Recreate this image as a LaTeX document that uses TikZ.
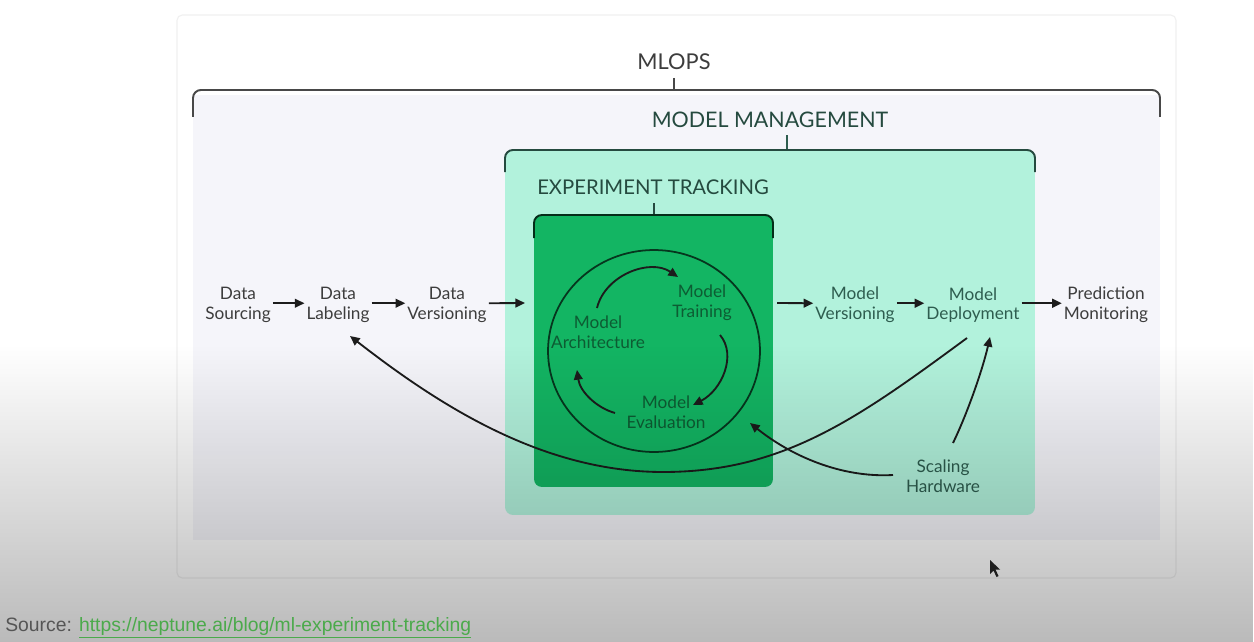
\documentclass[tikz,border=0pt]{standalone}
\usepackage{fontspec}
\setmainfont{Lato}
\newfontfamily\srcfont{Liberation Sans}
\usetikzlibrary{arrows.meta,shapes.geometric,fadings,calc}
\definecolor{txtgray}{HTML}{3D3D3D}
\definecolor{mint}{HTML}{B2F2DC}
\definecolor{minttxt}{HTML}{2E5D4F}
\definecolor{green}{HTML}{13B563}
\definecolor{greentxt}{HTML}{0D5C33}
\definecolor{lav}{HTML}{F5F5FA}
\definecolor{brgray}{HTML}{484848}
\definecolor{arrowc}{HTML}{1C1C1C}
\definecolor{linkgreen}{HTML}{4BAA4B}
\definecolor{srcgray}{HTML}{555555}
\tikzfading[name=vignette, top color=transparent!100, bottom color=transparent!0]
\begin{document}
\begin{tikzpicture}[x=0.02cm,y=-0.02cm,
  lbl/.style={font=\fontsize{9.8}{11.2}\selectfont, align=center, text=txtgray, inner sep=1pt},
  mlbl/.style={lbl, text=minttxt},
  glbl/.style={lbl, text=greentxt},
  head/.style={font=\fontsize{12.2}{14}\selectfont, inner sep=0pt},
  arr/.style={-{Triangle[length=5.5pt,width=5pt]}, line width=1.05pt, draw=arrowc},
  bracket/.style={line width=1.1pt, rounded corners=4.5pt},
  tick/.style={line width=0.8pt}]
\useasboundingbox (0,0) rectangle (1254,642);
% background and card
\fill[white] (0,0) rectangle (1254,642);
\draw[black!6, line width=0.6pt, rounded corners=3pt] (177,15) rectangle (1176,578);
\fill[lav] (193,95) rectangle (1160,540);
% model management box
\node[rectangle, rounded corners=4.5pt, fill=mint, minimum width=10.6cm, minimum height=7.3cm, inner sep=0pt] (mm) at (770,332.5) {};
% experiment tracking box
\node[rectangle, rounded corners=4.5pt, fill=green, minimum width=4.78cm, minimum height=5.44cm, inner sep=0pt] (et) at (653.5,351) {};
% brackets and headings
\node[head, font=\fontsize{12.4}{14}\selectfont, text=txtgray] (mlops) at (674,62) {MLOPS};
\draw[tick, brgray] (674,78) -- (674,90);
\draw[bracket, brgray] (193,117) -- (193,90) -- (1160,90) -- (1160,117);
\node[head, text=minttxt!80!black] (mmh) at (770,120) {MODEL MANAGEMENT};
\draw[tick, minttxt] (787,135) -- (787,150);
\draw[bracket, minttxt!80!black] (505,172) -- (505,150) -- (1035,150) -- (1035,172);
\node[head, font=\fontsize{11.55}{13}\selectfont, text=minttxt!80!black] (eth) at (653,187) {EXPERIMENT TRACKING};
\draw[tick, minttxt!80!black] (654,203) -- (654,215);
\draw[bracket, black!75!green] (534,238) -- (534,215) -- (773,215) -- (773,238);
% cycle
\node[ellipse, draw=black!70!green, line width=1pt, minimum width=4.24cm, minimum height=4.04cm, inner sep=0pt] (cyc) at (654,351) {};
\node[glbl] (arch) at (598,332) {Model\\Architecture};
\node[glbl] (train) at (702,303) {Model\\Training};
\node[glbl] (eval) at (666,412) {Model\\Evaluation};
\draw[arr] ([shift={(-1,-24)}]arch.center) .. controls (605,275) and (650,258) .. ([shift={(-24,-26)}]train.center);
\draw[arr] ([shift={(18,32)}]train.center) .. controls (737,355) and (722,390) .. ([shift={(27,-7)}]eval.center);
\draw[arr] ([shift={(-51,1)}]eval.center) .. controls (597,408) and (580,392) .. ([shift={(-21,38)}]arch.center);
% main row
\node[lbl] (src) at (238,305) {Data\\Sourcing};
\node[lbl] (lab) at (338,305) {Data\\Labeling};
\node[lbl] (ver) at (447,305) {Data\\Versioning};
\node[mlbl] (mver) at (855,305) {Model\\Versioning};
\node[mlbl] (dep) at (973,305) {Model\\Deployment};
\node[lbl] (pred) at (1106,305) {Prediction\\Monitoring};
\node[mlbl] (sc) at (943,476) {Scaling\\Hardware};
\coordinate (etin) at (525,303);
\coordinate (etout) at (777,303);
\coordinate (low) at (663,472);
\draw[arr] ([yshift=1pt]src.east) -- ([yshift=1pt]lab.west);
\draw[arr] ([yshift=1pt]lab.east) -- ([yshift=1pt]ver.west);
\draw[arr] ([yshift=1pt]ver.east) -- (etin);
\draw[arr] (etout) -- ([yshift=1pt]mver.west);
\draw[arr] ([yshift=1pt]mver.east) -- ([yshift=1pt]dep.west);
\draw[arr] ([yshift=1pt]dep.east) -- ([yshift=1pt]pred.west);
% feedback curves
\draw[arr] ([shift={(-6,33)}]dep.center) .. controls (857,419) and (783,472) .. (low)
  .. controls (543,472) and (440,406) .. ([shift={(12,31)}]lab.center);
\draw[arr] ([shift={(10,-33)}]sc.center) .. controls (968,412) and (983,368) .. ([shift={(17,32)}]dep.center);
\draw[arr] ([shift={(-50,-1)}]sc.center) .. controls (840,478) and (790,455) .. ([shift={(96,72)}]cyc.center);
% mouse pointer
\fill[black!85] (990,560) -- (990,574) -- (993.5,570.5) -- (996.5,577) -- (998.5,576) -- (995.5,569.5) -- (1000,569.5) -- cycle;
% screenshot vignette
\fill[black, opacity=0.27, path fading=vignette] (0,345) rectangle (1254,642);
% source line
\node[anchor=west, inner sep=0pt, font=\srcfont\fontsize{11}{13}\selectfont, text=srcgray] (srcl) at (5,628)
  {Source: \textcolor{linkgreen}{\underline{https://neptune.ai/blog/ml-experiment-tracking}}};
\end{tikzpicture}
\end{document}
